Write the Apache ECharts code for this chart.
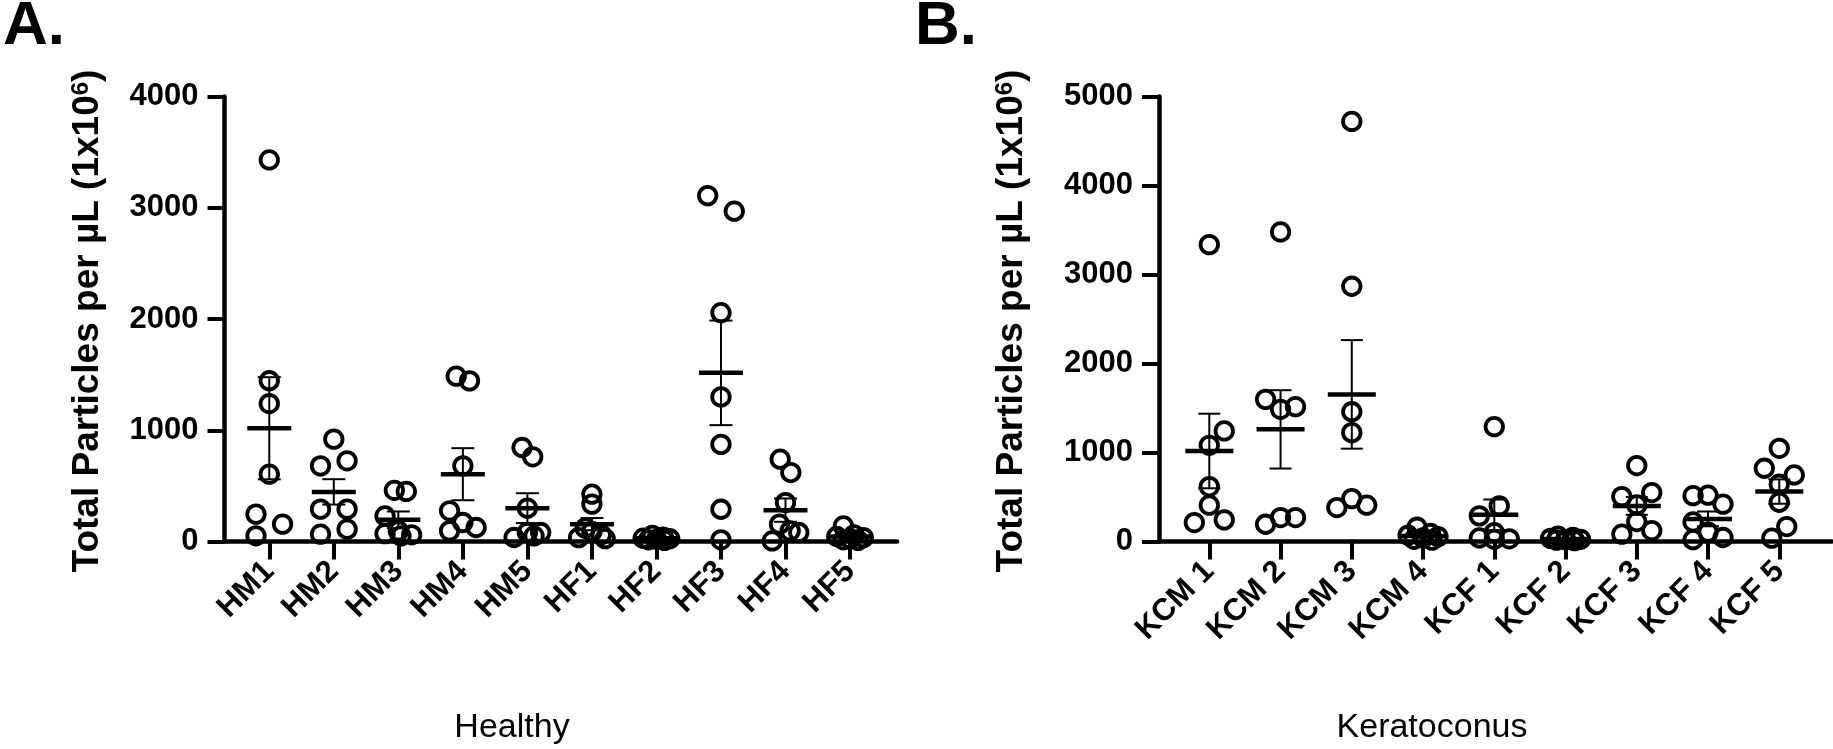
<!DOCTYPE html>
<html>
<head>
<meta charset="utf-8">
<script src="https://cdn.jsdelivr.net/npm/echarts@6/dist/echarts.min.js"></script>
<style>
  html, body { margin: 0; padding: 0; background: #fff; }
  #chart { width: 1833px; height: 749px; }
</style>
</head>
<body>
<div id="chart"></div>
<script>
// ---------------- data ----------------
const catsA = ['HM1', 'HM2', 'HM3', 'HM4', 'HM5', 'HF1', 'HF2', 'HF3', 'HF4', 'HF5'];
const catsB = ['KCM 1', 'KCM 2', 'KCM 3', 'KCM 4', 'KCF 1', 'KCF 2', 'KCF 3', 'KCF 4', 'KCF 5'];

const valuesA = [
  [3430, 1445, 1240, 605, 246, 156, 51],
  [920, 725, 680, 291, 291, 111, 66],
  [460, 450, 230, 95, 70, 60, 50],
  [1486, 1444, 680, 276, 171, 126, 96],
  [845, 761, 300, 81, 81, 50, 36],
  [425, 336, 120, 90, 60, 35, 25],
  [55, 40, 30, 25, 20, 15, 10],
  [3109, 2969, 2057, 1300, 873, 290, 15],
  [740, 620, 350, 156, 96, 81, 5],
  [140, 60, 45, 35, 25, 15, 10]
];
// horizontal scatter side of each dot (-1 left, 0 centre, 1 right), as seen in the figure
const sideA = [
  [0, 0, 0, 0, -1, 1, -1],
  [0, 1, -1, -1, 1, 1, -1],
  [-0.3, 0.6, -1, 0, -1, 1, 0.2],
  [-0.5, 0.5, 0, -1, 0, 1, -1],
  [-0.4, 0.4, 0, 0, 1, 0.5, -1],
  [0, 0, -0.5, 0, 0.7, -1, 1],
  [-0.3, 0.5, -1, 1, 0, -0.6, 0.6],
  [-1, 1, 0, 0, 0, 0, 0],
  [-0.4, 0.4, 0, -0.45, 0.35, 1, -1],
  [-0.5, 0.3, -1, 1, 0, -0.5, 0.6]
];
const meanA = [1018, 446, 195, 605, 300, 156, 30, 1516, 282, 45];
const semA = [459, 114, 75, 234, 134, 55, 7, 470, 105, 17];

const valuesB = [
  [3336, 1242, 1081, 617, 408, 243, 213],
  [3478, 1597, 1515, 1485, 269, 269, 194],
  [4720, 2868, 1458, 1223, 482, 408, 381],
  [160, 90, 70, 55, 40, 25, 15],
  [1290, 400, 288, 100, 40, 30, 25],
  [60, 45, 35, 25, 20, 15, 10],
  [853, 550, 505, 411, 224, 123, 82],
  [520, 515, 420, 220, 105, 45, 20],
  [1047, 823, 748, 643, 441, 168, 37]
];
const sideB = [
  [0, 1, 0, 0, 0, 1, -1],
  [0, -1, 1, 0, 0, 1, -1],
  [0, 0, 0, 0, 0, 1, -1],
  [-0.4, 0.5, -1, 1, 0, -0.6, 0.6],
  [0, 0.33, -1, 0, -1, 1, 0],
  [-0.5, 0.5, -1, 1, 0, -0.6, 0.6],
  [0, 1, -1, 0, 0, 1, -1],
  [0, -1, 1, -1, 0, 1, -1],
  [0, -1, 1, 0, 0, 0.5, -0.5]
];
const meanB = [1017, 1260, 1653, 62, 300, 28, 400, 254, 561];
const semB = [419, 440, 610, 20, 172, 7, 100, 83, 137];

const yTicksA = [0, 1000, 2000, 3000, 4000];
const yTicksB = [0, 1000, 2000, 3000, 4000, 5000];

// ---------------- styling ----------------
const FONT = '"Liberation Sans", Arial, Helvetica, sans-serif';
const jitterA = 0.206, jitterB = 0.21;

function scatterData(values, side, jit) {
  const out = [];
  values.forEach((arr, i) => arr.forEach((v, k) => out.push([i + side[i][k] * jit, v])));
  return out;
}
function summaryData(mean, sem) {
  return mean.map((m, i) => [i, m, sem[i]]);
}
function makeRender(halfMean, halfCap) {
  return function (params, api) {
    const i = api.value(0), m = api.value(1), s = api.value(2);
    const pm = api.coord([i, m]);
    const pt = api.coord([i, m + s]);
    const pb = api.coord([i, m - s]);
    const thin = { stroke: '#000', lineWidth: 2 };
    return {
      type: 'group',
      children: [
        { type: 'line', shape: { x1: pt[0], y1: pt[1], x2: pb[0], y2: pb[1] }, style: thin },
        { type: 'line', shape: { x1: pt[0] - halfCap, y1: pt[1], x2: pt[0] + halfCap, y2: pt[1] }, style: thin },
        { type: 'line', shape: { x1: pb[0] - halfCap, y1: pb[1], x2: pb[0] + halfCap, y2: pb[1] }, style: thin },
        { type: 'line', shape: { x1: pm[0] - halfMean, y1: pm[1], x2: pm[0] + halfMean, y2: pm[1] },
          style: { stroke: '#000', lineWidth: 4.5 } }
      ]
    };
  };
}

function xAxisCfg(gridIndex, cats, min, max) {
  const idx = cats.map((c, i) => i);
  return {
    type: 'value', gridIndex, min, max,
    axisLine: { show: true, onZero: false, lineStyle: { color: '#000', width: 4.5 } },
    axisTick: { show: true, customValues: idx, length: 18, lineStyle: { color: '#000', width: 4 } },
    axisLabel: {
      show: true, customValues: idx, rotate: 45, margin: 25,
      formatter: v => cats[Math.round(v)],
      fontSize: 31, fontWeight: 'bold', color: '#000', fontFamily: FONT
    },
    splitLine: { show: false }
  };
}
function yAxisCfg(gridIndex, ticks) {
  return {
    type: 'value', gridIndex, min: ticks[0], max: ticks[ticks.length - 1], interval: ticks[1] - ticks[0],
    axisLine: { show: true, onZero: false, lineStyle: { color: '#000', width: 4.5 } },
    axisTick: { show: true, length: 17, lineStyle: { color: '#000', width: 4 } },
    axisLabel: { margin: 26, fontSize: 31, fontWeight: 'bold', color: '#000', fontFamily: FONT,
                 formatter: v => String(v) },
    splitLine: { show: false }
  };
}
const dotStyle = { color: 'rgba(0,0,0,0)', borderColor: '#000', borderWidth: 3.8, opacity: 1 };

function yTitle(x, y) {
  return {
    type: 'text', x, y, rotation: Math.PI / 2,
    style: {
      text: '{t|Total Particles per µL (1x10}{s|6}{t|)}',
      align: 'center', verticalAlign: 'middle',
      rich: {
        t: { fontSize: 37, fontWeight: 'bold', fontFamily: FONT, fill: '#000' },
        s: { fontSize: 24, fontWeight: 'bold', fontFamily: FONT, fill: '#000', verticalAlign: 'top' }
      }
    }
  };
}
function plainText(x, y, text, size, weight) {
  return {
    type: 'text', x, y,
    style: { text, fontSize: size, fontWeight: weight, fontFamily: FONT, fill: '#000',
             align: 'center', verticalAlign: 'middle' }
  };
}

const chart = echarts.init(document.getElementById('chart'), null, { renderer: 'canvas' });
chart.setOption({
  animation: false,
  backgroundColor: '#fff',
  grid: [
    { left: 224.5, top: 96.5, width: 672.5, height: 445 },
    { left: 1159, top: 96.5, width: 673, height: 445 }
  ],
  xAxis: [
    xAxisCfg(0, catsA, -0.694, 9.728),
    xAxisCfg(1, catsB, -0.706, 8.74)
  ],
  yAxis: [
    yAxisCfg(0, yTicksA),
    yAxisCfg(1, yTicksB)
  ],
  series: [
    { type: 'scatter', xAxisIndex: 0, yAxisIndex: 0, symbol: 'circle', symbolSize: 17.5,
      itemStyle: dotStyle, emphasis: { disabled: true }, silent: true,
      data: scatterData(valuesA, sideA, jitterA) },
    { type: 'scatter', xAxisIndex: 1, yAxisIndex: 1, symbol: 'circle', symbolSize: 17.5,
      itemStyle: dotStyle, emphasis: { disabled: true }, silent: true,
      data: scatterData(valuesB, sideB, jitterB) },
    { type: 'custom', xAxisIndex: 0, yAxisIndex: 0, renderItem: makeRender(22, 11.5), silent: true,
      data: summaryData(meanA, semA), z: 3 },
    { type: 'custom', xAxisIndex: 1, yAxisIndex: 1, renderItem: makeRender(24, 11), silent: true,
      data: summaryData(meanB, semB), z: 3 }
  ],
  graphic: [
    plainText(34, 27, 'A.', 62, 'bold'),
    plainText(946, 27, 'B.', 62, 'bold'),
    yTitle(88, 321),
    yTitle(1012, 321),
    plainText(512, 728, 'Healthy', 34, 'normal'),
    plainText(1432, 728, 'Keratoconus', 34, 'normal')
  ]
});
</script>
</body>
</html>
